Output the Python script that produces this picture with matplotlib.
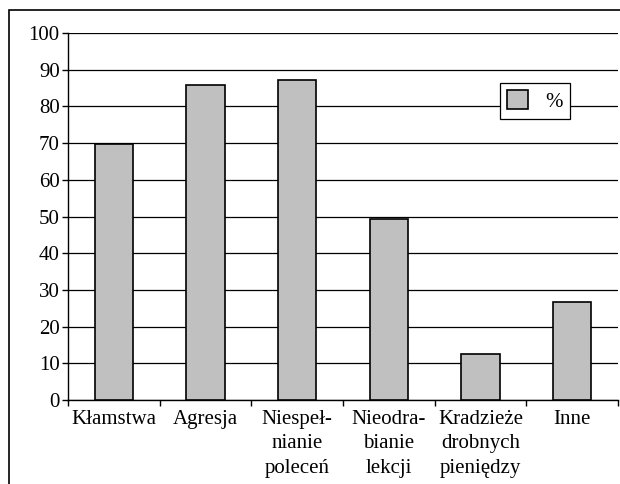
import matplotlib.pyplot as plt
from matplotlib.patches import Rectangle

categories = ["Kłamstwa", "Agresja", "Niespeł-\nnianie\npoleceń",
              "Nieodra-\nbianie\nlekcji", "Kradzieże\ndrobnych\npieniędzy", "Inne"]
values = [69.7, 85.7, 87.2, 49.3, 12.5, 26.6]
series_label = "%"

plt.rcParams["font.family"] = ["Liberation Serif", "DejaVu Serif"]

fig = plt.figure(figsize=(6.2, 4.84), dpi=100)
ax = fig.add_axes([68/620, 1 - 400/484, 550/620, 367/484])

x = range(len(categories))
ax.bar(x, values, width=0.42, color="#c0c0c0", edgecolor="black",
       linewidth=1.2, label=series_label, zorder=3)

ax.set_xlim(-0.5, len(categories) - 0.5)
ax.set_ylim(0, 100)
ax.set_yticks(range(0, 101, 10))
ax.yaxis.grid(True, color="black", linewidth=0.9, zorder=0)

ax.set_xticks(list(x))
ax.set_xticklabels(categories, fontsize=15, linespacing=1.4)
ax.set_xticks([i - 0.5 for i in range(len(categories) + 1)], minor=True)
ax.tick_params(axis="x", which="major", length=0, pad=7)
ax.tick_params(axis="x", which="minor", length=4, width=1, direction="out")
ax.tick_params(axis="y", length=4, width=1, pad=2, labelsize=15)

for side in ["top", "right"]:
    ax.spines[side].set_visible(False)
for side in ["left", "bottom"]:
    ax.spines[side].set_linewidth(1)

leg = ax.legend(loc="upper left", bbox_to_anchor=(500/620, 1 - 83/484),
                bbox_transform=fig.transFigure, borderaxespad=0,
                fancybox=False, framealpha=1, edgecolor="black",
                fontsize=15, handlelength=1.0, handleheight=1.0,
                handletextpad=0.8, borderpad=0.35)
leg.get_frame().set_linewidth(0.9)

# outer chart frame (only left and top visible, rest clipped)
fig.patches.append(Rectangle((9/620, -0.1), 1.2, 1.1 - 10/484,
                             transform=fig.transFigure, fill=False,
                             edgecolor="black", linewidth=1.2))

fig.savefig("out.png", dpi=100)
